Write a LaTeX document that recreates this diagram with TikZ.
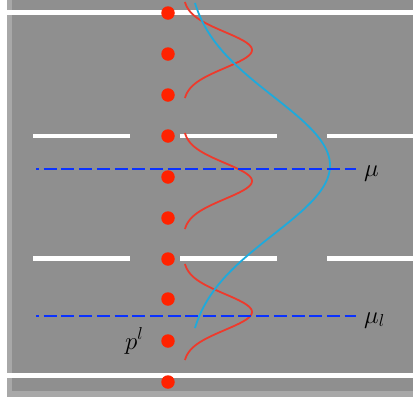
\documentclass[tikz,border=0pt]{standalone}
\usepackage{tikz}
\definecolor{roadgray}{HTML}{8F8F8F}
\definecolor{edgegray}{HTML}{A8A8A8}
\definecolor{dotred}{HTML}{FF2200}
\definecolor{curvered}{HTML}{EE3A2C}
\definecolor{curvecyan}{HTML}{1EAADC}
\definecolor{meanblue}{HTML}{0A32FF}
\tikzset{
  reddot/.style={circle, fill=dotred, inner sep=0pt, minimum size=13.5pt},
  laneline/.style={white, line width=4.5pt},
  meanline/.style={meanblue, line width=2.8pt, dash pattern=on 13pt off 4.7pt, dash phase=10pt},
  redcurve/.style={curvered, line width=1.8pt},
  cyancurve/.style={curvecyan, line width=1.8pt},
  lbl/.style={inner sep=0pt, font=\fontsize{26}{26}\selectfont}
}
\begin{document}
\begin{tikzpicture}[x=1pt,y=-1pt]
\useasboundingbox (0,0) rectangle (413,397);
% road
\fill[roadgray] (7,0) rectangle (413,397);
\fill[edgegray] (7,0) rectangle (12,397);
\fill[edgegray] (7,391) rectangle (413,397);
% solid edge lines
\draw[laneline] (7,12.5) -- (413,12.5);
\draw[laneline, line width=5pt] (7,375.5) -- (413,375.5);
% dashed lane lines
\foreach \yy in {136,258.5}{
  \draw[laneline] (33,\yy) -- (130,\yy);
  \draw[laneline] (180,\yy) -- (277,\yy);
  \draw[laneline] (327,\yy) -- (413,\yy);
}
% red dots
\foreach \i/\yy in {1/13,2/54,3/95,4/136,5/177,6/218,7/259,8/299,9/341,10/382}{
  \node[reddot] (d\i) at (168,\yy) {};
}
% red gaussian bumps
\foreach \cc in {50,181,312}{
  \draw[redcurve] plot[domain=-48:48, samples=80, smooth] ({183+69*exp(-0.5*(\x/18)*(\x/18))}, {\cc+\x});
}
% broad cyan gaussian
\draw[cyancurve] plot[domain=-162.5:162.5, samples=120, smooth] ({186+144*exp(-0.5*(\x/69)*(\x/69))}, {165.5+\x});
% mean lines
\coordinate (m1a) at (36,169);
\coordinate (m1b) at (356,169);
\coordinate (m2a) at (36,316);
\coordinate (m2b) at (356,316);
\draw[meanline] (m1a) -- (m1b);
\draw[meanline] (m2a) -- (m2b);
% labels
\node[lbl, anchor=base west] (mu) at (364,176) {$\mu$};
\node[lbl, anchor=base west] (mul) at (364,323) {$\mu_l$};
\node[lbl, anchor=base west] (pl) at (125,349) {$p^l$};
\end{tikzpicture}
\end{document}
